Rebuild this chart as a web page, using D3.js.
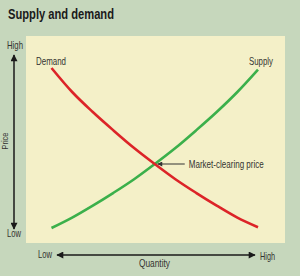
<!DOCTYPE html>
<html>
<head>
<meta charset="utf-8">
<script src="https://cdn.jsdelivr.net/npm/d3@7"></script>
<style>
  html, body { margin: 0; padding: 0; background: #c6d7bc; }
  svg { display: block; }
  text { font-family: "Liberation Sans", "Arial", sans-serif; fill: #333330; }
</style>
</head>
<body>
<svg id="chart" width="300" height="276"></svg>
<script>
const title = "Supply and demand";
const quantity = [0, 1, 2, 3, 4, 5, 6, 7, 8, 9, 10];
const supply   = [0, 0.65, 1.4, 2.2, 3.05, 4.0, 5.0, 6.1, 7.25, 8.5, 9.9];
const demand   = [10, 8.5, 7.25, 6.1, 5.0, 4.0, 3.05, 2.2, 1.4, 0.65, 0.05];
const seriesNames = ["Demand", "Supply"];
const priceTicks = ["Low", "High"];
const quantityTicks = ["Low", "High"];
const axisTitles = { x: "Quantity", y: "Price" };
const equilibrium = { q: 5, p: 4.0, label: "Market-clearing price" };

const svg = d3.select("#chart");
const W = 300, H = 276;

svg.append("rect").attr("width", W).attr("height", H).attr("fill", "#c6d7bc");

const panel = { x0: 26, y0: 36, x1: 285, y1: 243 };
svg.append("rect")
  .attr("x", panel.x0).attr("y", panel.y0)
  .attr("width", panel.x1 - panel.x0).attr("height", panel.y1 - panel.y0)
  .attr("fill", "#f4f0c8");

function label(xp, yp, txt, size, len, anchor) {
  const t = svg.append("text")
    .attr("x", xp).attr("y", yp)
    .attr("font-size", size)
    .attr("text-anchor", anchor || "start")
    .text(txt);
  if (len) t.attr("textLength", len).attr("lengthAdjust", "spacingAndGlyphs");
  return t;
}

// title
label(8, 18.5, title, 15, 106).attr("font-weight", "bold").style("fill", "#1a1a1a");

const x = d3.scaleLinear().domain([0, 10]).range([51.5, 258]);
const y = d3.scaleLinear().domain([0, 10]).range([228, 68]);

const line = d3.line()
  .x(d => x(d[0])).y(d => y(d[1]))
  .curve(d3.curveMonotoneX);

const demandPts = quantity.map((q, i) => [q, demand[i]]);
const supplyPts = quantity.map((q, i) => [q, supply[i]]);

svg.append("path").datum(supplyPts)
  .attr("d", line).attr("fill", "none")
  .attr("stroke", "#3bb04b").attr("stroke-width", 2.6);
svg.append("path").datum(demandPts)
  .attr("d", line).attr("fill", "none")
  .attr("stroke", "#dc2428").attr("stroke-width", 2.6);

// series labels
label(x(0) - 15.5, y(demand[0]) - 3, seriesNames[0], 10.5, 30);
label(x(10) + 3, y(supply[supply.length - 1]) - 5, seriesNames[1], 10.5, 24, "middle");

const defs = svg.append("defs");
defs.append("marker")
  .attr("id", "ah").attr("viewBox", "0 0 10 10")
  .attr("refX", 9).attr("refY", 5)
  .attr("markerWidth", 10).attr("markerHeight", 7)
  .attr("markerUnits", "userSpaceOnUse")
  .attr("orient", "auto-start-reverse")
  .append("path").attr("d", "M0,0 L10,5 L0,10 Z").attr("fill", "#1a1a1a");
defs.append("marker")
  .attr("id", "ahs").attr("viewBox", "0 0 10 10")
  .attr("refX", 9).attr("refY", 5)
  .attr("markerWidth", 6).attr("markerHeight", 5)
  .attr("markerUnits", "userSpaceOnUse")
  .attr("orient", "auto-start-reverse")
  .append("path").attr("d", "M0,0 L10,5 L0,10 Z").attr("fill", "#333");

// equilibrium leader
const ex = x(equilibrium.q), ey = y(equilibrium.p);
svg.append("line")
  .attr("x1", ex + 30).attr("y1", ey).attr("x2", ex + 3).attr("y2", ey)
  .attr("stroke", "#333").attr("stroke-width", 1)
  .attr("marker-end", "url(#ahs)");
label(ex + 34, ey + 4, equilibrium.label, 10.5, 75);

// y axis arrow
const yAx = 14;
svg.append("line")
  .attr("x1", yAx).attr("x2", yAx).attr("y1", 140).attr("y2", 55)
  .attr("stroke", "#1a1a1a").attr("stroke-width", 1.5)
  .attr("marker-end", "url(#ah)");
svg.append("line")
  .attr("x1", yAx).attr("x2", yAx).attr("y1", 140).attr("y2", 229)
  .attr("stroke", "#1a1a1a").attr("stroke-width", 1.5)
  .attr("marker-end", "url(#ah)");
label(yAx + 1, 48.5, priceTicks[1], 10.5, 16, "middle");
label(yAx, 236.7, priceTicks[0], 10.5, 14, "middle");
svg.append("text")
  .attr("transform", "translate(8,141) rotate(-90)")
  .attr("text-anchor", "middle").attr("font-size", 9)
  .attr("textLength", 17).attr("lengthAdjust", "spacingAndGlyphs")
  .text(axisTitles.y);

// x axis arrow
const xAy = 255;
svg.append("line")
  .attr("x1", 156).attr("x2", 57).attr("y1", xAy).attr("y2", xAy)
  .attr("stroke", "#1a1a1a").attr("stroke-width", 1.5)
  .attr("marker-end", "url(#ah)");
svg.append("line")
  .attr("x1", 156).attr("x2", 255).attr("y1", xAy).attr("y2", xAy)
  .attr("stroke", "#1a1a1a").attr("stroke-width", 1.5)
  .attr("marker-end", "url(#ah)");
label(45, 257.5, quantityTicks[0], 10.5, 14, "middle");
label(267.5, 259.5, quantityTicks[1], 10.5, 15, "middle");
label(154.5, 266.7, axisTitles.x, 10.5, 31, "middle");
</script>
</body>
</html>
